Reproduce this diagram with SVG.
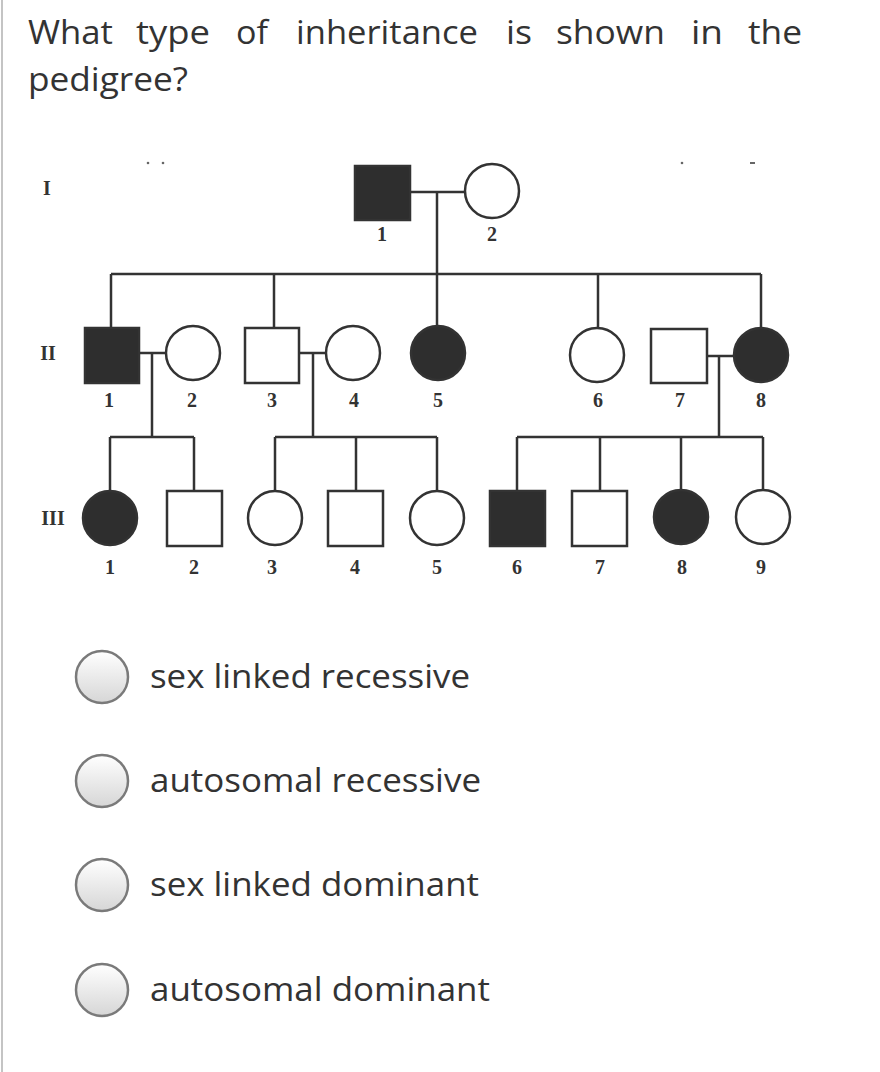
<svg xmlns="http://www.w3.org/2000/svg" width="880" height="1072" viewBox="0 0 880 1072">
<defs>
<linearGradient id="rg" x1="0" y1="0" x2="0" y2="1">
<stop offset="0" stop-color="#ffffff"/>
<stop offset="1" stop-color="#d6d6d6"/>
</linearGradient>
</defs>
<style>
.q{font-family:"Open Sans","Noto Sans",sans-serif;font-size:33px;fill:#333}
.o{font-family:"Open Sans","Noto Sans",sans-serif;font-size:33px;fill:#333}
.lbl{font-family:"Liberation Serif","DejaVu Serif",serif;font-size:20px;font-weight:bold;fill:#333;text-anchor:middle}
.gen{font-family:"Liberation Serif","DejaVu Serif",serif;font-size:20px;font-weight:bold;fill:#333;text-anchor:middle}
.ln{stroke:#333;stroke-width:2.5;fill:none}
.aff{fill:#2e2e2e;stroke:#333;stroke-width:2.5}
.un{fill:#fff;stroke:#333;stroke-width:2.5}
.radio{fill:url(#rg);stroke:#7a7a7a;stroke-width:2.5}
</style>
<rect x="0" y="0" width="880" height="1072" fill="#fff"/>
<line x1="2" y1="0" x2="2" y2="1072" stroke="#c4c4c4" stroke-width="2"/>

<g id="question">
<text class="q" x="28" y="44" textLength="85" lengthAdjust="spacingAndGlyphs">What</text>
<text class="q" x="136" y="44" textLength="74" lengthAdjust="spacingAndGlyphs">type</text>
<text class="q" x="236" y="44" textLength="32" lengthAdjust="spacingAndGlyphs">of</text>
<text class="q" x="296" y="44" textLength="182" lengthAdjust="spacingAndGlyphs">inheritance</text>
<text class="q" x="506" y="44" textLength="26" lengthAdjust="spacingAndGlyphs">is</text>
<text class="q" x="556" y="44" textLength="109" lengthAdjust="spacingAndGlyphs">shown</text>
<text class="q" x="691" y="44" textLength="32" lengthAdjust="spacingAndGlyphs">in</text>
<text class="q" x="748" y="44" textLength="54" lengthAdjust="spacingAndGlyphs">the</text>
<text class="q" x="28" y="91" textLength="160" lengthAdjust="spacingAndGlyphs">pedigree?</text>
</g>

<g id="artifacts" fill="#666">
<circle cx="148" cy="163" r="1.3"/>
<circle cx="163" cy="163" r="1.3"/>
<circle cx="682" cy="163" r="1.3"/>
<rect x="750" y="162" width="5" height="2"/>
</g>

<g id="generations">
<text class="gen" x="47" y="195">I</text>
<text class="gen" x="48" y="360">II</text>
<text class="gen" x="53" y="525">III</text>
</g>

<g id="connectors" class="ln">
<line x1="410" y1="192" x2="465" y2="192"/>
<line x1="437" y1="192" x2="437" y2="326"/>
<line x1="111" y1="274" x2="761" y2="274"/>
<line x1="111" y1="274" x2="111" y2="328"/>
<line x1="274" y1="274" x2="274" y2="328"/>
<line x1="598" y1="274" x2="598" y2="328"/>
<line x1="761" y1="274" x2="761" y2="328"/>
<line x1="139" y1="353" x2="166" y2="353"/>
<line x1="152" y1="353" x2="152" y2="437"/>
<line x1="110" y1="437" x2="194" y2="437"/>
<line x1="110" y1="437" x2="110" y2="491"/>
<line x1="194" y1="437" x2="194" y2="491"/>
<line x1="299" y1="353" x2="326" y2="353"/>
<line x1="313" y1="353" x2="313" y2="437"/>
<line x1="275" y1="437" x2="437" y2="437"/>
<line x1="275" y1="437" x2="275" y2="491"/>
<line x1="356" y1="437" x2="356" y2="491"/>
<line x1="437" y1="437" x2="437" y2="491"/>
<line x1="707" y1="356" x2="734" y2="356"/>
<line x1="719" y1="356" x2="719" y2="437"/>
<line x1="517" y1="437" x2="763" y2="437"/>
<line x1="517" y1="437" x2="517" y2="491"/>
<line x1="600" y1="437" x2="600" y2="491"/>
<line x1="681" y1="437" x2="681" y2="490"/>
<line x1="763" y1="437" x2="763" y2="490"/>
</g>

<g id="I-1"><rect class="aff" x="355" y="166" width="55" height="54"/><text class="lbl" x="382" y="241">1</text></g>
<g id="I-2"><circle class="un" cx="492" cy="191" r="27"/><text class="lbl" x="492" y="241">2</text></g>

<g id="II-1"><rect class="aff" x="85" y="328" width="54" height="55"/><text class="lbl" x="109" y="407">1</text></g>
<g id="II-2"><circle class="un" cx="193" cy="353" r="27"/><text class="lbl" x="192" y="407">2</text></g>
<g id="II-3"><rect class="un" x="245" y="328" width="54" height="55"/><text class="lbl" x="272" y="407">3</text></g>
<g id="II-4"><circle class="un" cx="353" cy="353" r="27"/><text class="lbl" x="354" y="407">4</text></g>
<g id="II-5"><circle class="aff" cx="438" cy="353" r="27"/><text class="lbl" x="438" y="407">5</text></g>
<g id="II-6"><circle class="un" cx="597" cy="355" r="27"/><text class="lbl" x="598" y="407">6</text></g>
<g id="II-7"><rect class="un" x="651" y="329" width="56" height="54"/><text class="lbl" x="680" y="407">7</text></g>
<g id="II-8"><circle class="aff" cx="761" cy="355" r="27"/><text class="lbl" x="761" y="407">8</text></g>

<g id="III-1"><circle class="aff" cx="110" cy="518" r="27"/><text class="lbl" x="110" y="574">1</text></g>
<g id="III-2"><rect class="un" x="167" y="491" width="55" height="55"/><text class="lbl" x="194" y="574">2</text></g>
<g id="III-3"><circle class="un" cx="275" cy="518" r="27"/><text class="lbl" x="272" y="574">3</text></g>
<g id="III-4"><rect class="un" x="328" y="491" width="55" height="55"/><text class="lbl" x="355" y="574">4</text></g>
<g id="III-5"><circle class="un" cx="437" cy="518" r="27"/><text class="lbl" x="437" y="574">5</text></g>
<g id="III-6"><rect class="aff" x="490" y="491" width="55" height="55"/><text class="lbl" x="517" y="574">6</text></g>
<g id="III-7"><rect class="un" x="572" y="491" width="55" height="55"/><text class="lbl" x="600" y="574">7</text></g>
<g id="III-8"><circle class="aff" cx="681" cy="517" r="27"/><text class="lbl" x="682" y="574">8</text></g>
<g id="III-9"><circle class="un" cx="763" cy="517" r="27"/><text class="lbl" x="761" y="574">9</text></g>

<g id="opt1"><circle class="radio" cx="102" cy="677" r="26"/><text class="o" x="150" y="688" textLength="320" lengthAdjust="spacingAndGlyphs">sex linked recessive</text></g>
<g id="opt2"><circle class="radio" cx="102" cy="781" r="26"/><text class="o" x="150" y="792" textLength="331" lengthAdjust="spacingAndGlyphs">autosomal recessive</text></g>
<g id="opt3"><circle class="radio" cx="102" cy="885" r="26"/><text class="o" x="150" y="896" textLength="329" lengthAdjust="spacingAndGlyphs">sex linked dominant</text></g>
<g id="opt4"><circle class="radio" cx="102" cy="990" r="26"/><text class="o" x="150" y="1001" textLength="340" lengthAdjust="spacingAndGlyphs">autosomal dominant</text></g>
</svg>
